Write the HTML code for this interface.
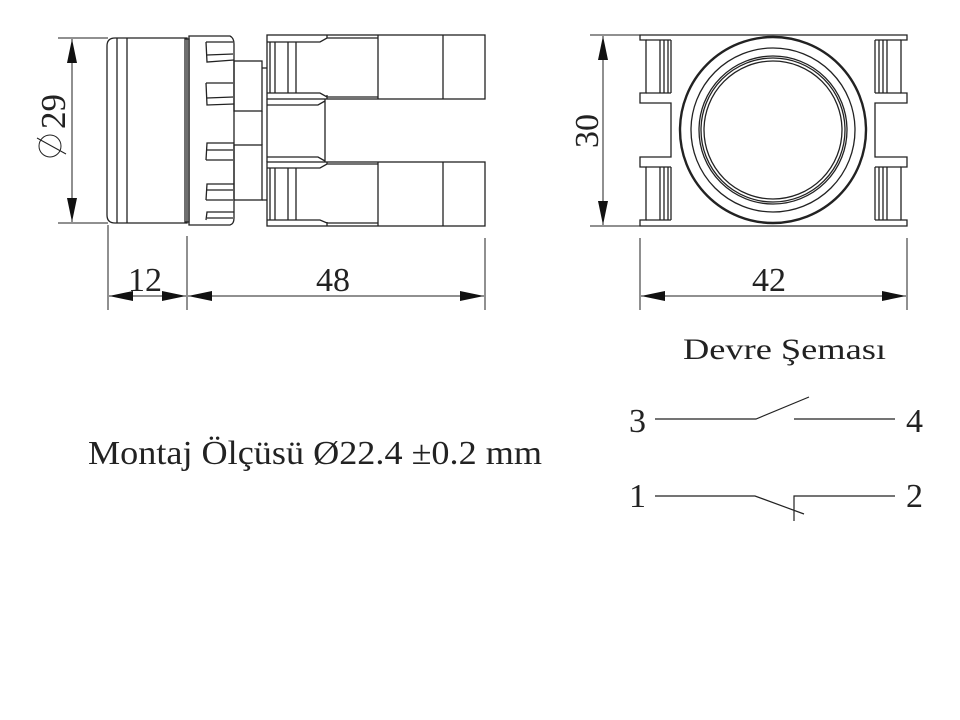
<!DOCTYPE html>
<html><head><meta charset="utf-8"><style>
html,body{margin:0;padding:0;background:#fff;width:960px;height:720px;overflow:hidden}
svg{display:block}
text{font-family:"Liberation Serif",serif;fill:#222}
</style></head><body>
<svg width="960" height="720" viewBox="0 0 960 720" xmlns="http://www.w3.org/2000/svg">
<defs>
<marker id="a" viewBox="0 0 24 10" refX="24" refY="5" markerWidth="24" markerHeight="10" markerUnits="userSpaceOnUse" orient="auto"><path d="M0,0 L24,5 L0,10 Z" fill="#111"/></marker>
</defs>
<g fill="none" stroke="#222" stroke-width="1.3">
<path d="M187,38 H115 Q107,38 107,46 V215 Q107,223 115,223 H187 Z"/>
<line x1="117" y1="38" x2="117" y2="223"/>
<line x1="127" y1="38" x2="127" y2="223"/>
<rect x="185" y="39" width="4" height="183"/>
<path d="M189,36 H230 Q234,38 234,44 V218 Q234,224 230,225 H189 Z"/>
<path d="M206,42 H233 M206,42 L207,62 L234,60 M207,55 L233,54"/>
<path d="M206,83 H233 M206,83 L207,105 L234,104 M207,98 L233,97"/>
<path d="M206,160 L207,143 L234,143 M206,160 H233 M207,150 L233,150"/>
<path d="M206,200 L207,184 L234,184 M206,200 H233 M207,190 L233,190"/>
<path d="M206,220 L207,212 L234,212 M207,218 L233,218"/>
<rect x="234" y="61" width="28" height="50"/>
<rect x="234" y="145" width="28" height="55"/>
<path d="M262,68 H267 M262,200 H267 M262,111 V145"/>
<rect x="267" y="35" width="218" height="64"/>
<rect x="267" y="162" width="218" height="64"/>
<line x1="378" y1="35" x2="378" y2="99"/><line x1="443" y1="35" x2="443" y2="99"/>
<line x1="378" y1="162" x2="378" y2="226"/><line x1="443" y1="162" x2="443" y2="226"/>
<path d="M267,42 H320 L327,38 H378 M327,38 V35 M327,95 V99 M267,93 H320 L327,97 H378"/>
<path d="M270,42 V93 M275,42 V93 M288,42 V93 M296,42 V93"/>
<path d="M267,168 H320 L327,164 H378 M327,164 V162 M327,222 V226 M267,220 H320 L327,223 H378"/>
<path d="M270,168 V220 M275,168 V220 M288,168 V220 M296,168 V220"/>
<path d="M267,99 V162 M325,99 V162 M267,105 H318 L325,101 M267,157 H318 L325,161"/>
<g stroke-width="1">
<line x1="58" y1="38" x2="108" y2="38"/><line x1="58" y1="223" x2="108" y2="223"/>
<line x1="108" y1="225" x2="108" y2="310"/><line x1="187" y1="236" x2="187" y2="310"/><line x1="485" y1="238" x2="485" y2="310"/>
<line x1="72" y1="130" x2="72" y2="39" marker-end="url(#a)"/><line x1="72" y1="130" x2="72" y2="222" marker-end="url(#a)"/>
<line x1="140" y1="296" x2="109" y2="296" marker-end="url(#a)"/><line x1="140" y1="296" x2="186" y2="296" marker-end="url(#a)"/>
<line x1="330" y1="296" x2="188" y2="296" marker-end="url(#a)"/><line x1="330" y1="296" x2="484" y2="296" marker-end="url(#a)"/>
<circle cx="50" cy="146" r="11"/><line x1="37" y1="138" x2="66" y2="154"/>
</g>
<path d="M640,35 H907 V40 H901 V93 H907 V103 H875 V157 H907 V167 H901 V220 H907 V226 H640 V220 H646 V167 H640 V157 H671 V103 H640 V93 H646 V40 H640 Z"/>
<line x1="646" y1="40" x2="671" y2="40"/><line x1="671" y1="40" x2="671" y2="93"/><line x1="646" y1="93" x2="671" y2="93"/>
<line x1="646" y1="167" x2="671" y2="167"/><line x1="671" y1="167" x2="671" y2="220"/><line x1="646" y1="220" x2="671" y2="220"/>
<path d="M660,40 V93 M664,40 V93 M668,40 V93 M660,167 V220 M664,167 V220 M668,167 V220"/>
<line x1="875" y1="40" x2="901" y2="40"/><line x1="875" y1="40" x2="875" y2="93"/><line x1="875" y1="93" x2="901" y2="93"/>
<line x1="875" y1="167" x2="901" y2="167"/><line x1="875" y1="167" x2="875" y2="220"/><line x1="875" y1="220" x2="901" y2="220"/>
<path d="M879,40 V93 M883,40 V93 M887,40 V93 M879,167 V220 M883,167 V220 M887,167 V220"/>
<circle cx="773" cy="130" r="93" stroke-width="2.4"/>
<circle cx="773" cy="130" r="82"/>
<circle cx="773" cy="130" r="74"/>
<circle cx="773" cy="130" r="72"/>
<circle cx="773" cy="130" r="69"/>
<g stroke-width="1">
<line x1="590" y1="35" x2="640" y2="35"/><line x1="590" y1="226" x2="640" y2="226"/>
<line x1="640" y1="238" x2="640" y2="310"/><line x1="907" y1="238" x2="907" y2="310"/>
<line x1="603" y1="130" x2="603" y2="36" marker-end="url(#a)"/><line x1="603" y1="130" x2="603" y2="225" marker-end="url(#a)"/>
<line x1="773" y1="296" x2="641" y2="296" marker-end="url(#a)"/><line x1="773" y1="296" x2="906" y2="296" marker-end="url(#a)"/>
</g>
<g stroke-width="1.2">
<path d="M655,419 H756 L809,397 M794,419 H895"/>
<path d="M655,496 H755 L804,514 M794,521 V496 H895"/>
</g>
</g>
<text x="0" y="0" font-size="35" transform="translate(65,129) rotate(-90)">29</text>
<text x="128" y="291" font-size="34">12</text>
<text x="316" y="291" font-size="34">48</text>
<text x="752" y="291" font-size="34">42</text>
<text x="0" y="0" font-size="34" transform="translate(598,148) rotate(-90)">30</text>
<text x="683" y="359" font-size="30" textLength="203" lengthAdjust="spacingAndGlyphs">Devre Şeması</text>
<text x="88" y="464" font-size="34" textLength="454" lengthAdjust="spacingAndGlyphs">Montaj Ölçüsü Ø22.4 ±0.2 mm</text>
<text x="629" y="432" font-size="34">3</text>
<text x="906" y="432" font-size="34">4</text>
<text x="629" y="507" font-size="34">1</text>
<text x="906" y="507" font-size="34">2</text>
</svg>
</body></html>
